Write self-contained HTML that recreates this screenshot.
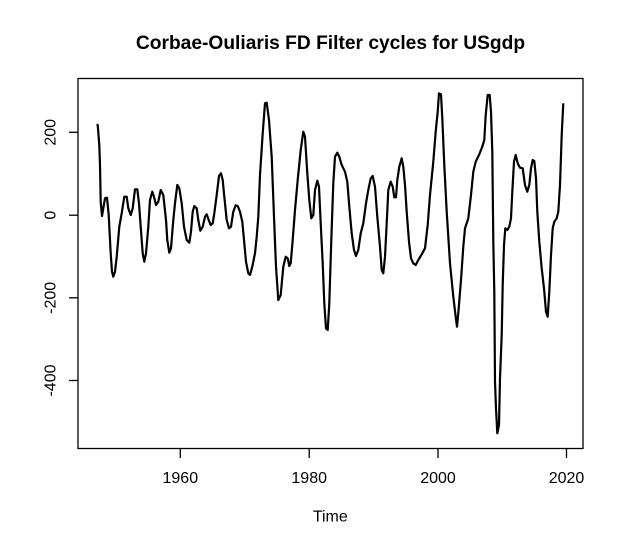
<!DOCTYPE html>
<html>
<head>
<meta charset="utf-8">
<style>
html,body{margin:0;padding:0;background:#fff;}
svg{display:block;}
text{font-family:"Liberation Sans",Arial,sans-serif;fill:#000;}
</style>
</head>
<body>
<svg width="624" height="546" viewBox="0 0 624 546" xmlns="http://www.w3.org/2000/svg">
<rect x="0" y="0" width="624" height="546" fill="#fff"/>
<text x="330.5" y="49" font-size="19.2" font-weight="bold" text-anchor="middle">Corbae-Ouliaris FD Filter cycles for USgdp</text>
<rect x="78" y="78.5" width="505" height="370" fill="none" stroke="#000" stroke-width="1.3"/>
<g stroke="#000" stroke-width="1.3">
<line x1="180.3" y1="448.5" x2="180.3" y2="458"/>
<line x1="309.2" y1="448.5" x2="309.2" y2="458"/>
<line x1="438" y1="448.5" x2="438" y2="458"/>
<line x1="566.5" y1="448.5" x2="566.5" y2="458"/>
<line x1="69" y1="132.3" x2="78" y2="132.3"/>
<line x1="69" y1="215.2" x2="78" y2="215.2"/>
<line x1="69" y1="297.8" x2="78" y2="297.8"/>
<line x1="69" y1="380.5" x2="78" y2="380.5"/>
</g>
<g font-size="16" text-anchor="middle">
<text x="180.3" y="483">1960</text>
<text x="309.2" y="483">1980</text>
<text x="438" y="483">2000</text>
<text x="566.5" y="483">2020</text>
<text x="330.3" y="521.7">Time</text>
<text transform="translate(55.7,132.3) rotate(-90)">200</text>
<text transform="translate(55.7,215.2) rotate(-90)">0</text>
<text transform="translate(55.7,297.8) rotate(-90)">-200</text>
<text transform="translate(55.7,380.5) rotate(-90)">-400</text>
</g>
<polyline fill="none" stroke="#000" stroke-width="2.2" stroke-linejoin="round" points="
96.7,124.3 97.7,125 99.3,145 100,165 100.7,201.7 102,216 103.3,208.3 105,198.3 107,197.7 108.7,215
110.7,253.3 112,271.7 113.3,276.7 115,271.7 116.7,256.7 119.3,226.7 121.7,213.3 124.3,196.7 126.7,196.7 128.3,208.3
130.7,215 132.7,208.3 135,189.3 137.3,189.3 139,203.3 140.7,226.7 142.7,253.3 144.3,261.7 146,253.3 148.3,226.7
150,200 152.3,191.7 154,196.7 156,205 158.3,201.7 160.7,190 163.3,195 166,220 167.3,240 169.3,252.7
171,248.3 173.3,220 175,203.3 177.3,185 179.3,188.3 181.7,203.3 184,226.7 186.7,240 189.3,242.7 191,231.7
192.7,211.7 194.3,206 196.7,208.3 198.3,220 200.3,230.7 202.7,226.7 205,216.7 206.7,214.3 208.7,220 210.7,225
212.7,223.3 214.3,213.3 216.7,195 219,176 221,173.3 222.7,180 224.3,196.7 226.7,220 229,228.3 231,226.7
233.3,211.7 235.7,205.3 237.7,206 240,211.7 242.3,221.7 244,240 246,261.7 248.3,273.3 250,275 252.3,266.7
255,253.3 256.7,236.7 258.3,216.7 260,175 262.7,133.3 265,103.3 266.7,102.7 269,120 271.7,156.7 274,216.7
276,266.7 278.3,300 280.7,295 283.3,266.7 285.7,256.7 287.7,258.3 289.3,266 290.7,263.3 292.7,240 295,210
297.7,180 300.7,150 303.3,131.7 305,136.7 307.3,173.3 309.3,200 311.3,218.3 313.3,215 315,190 317.3,180.7
319,186.7 320.7,223.3 322.7,263.3 324.3,303.3 326,328.3 327.7,330 329.3,303.3 331.3,240 333.3,183.3 335,156.7
337.3,152.7 339.3,156.7 341.7,165 345,171.7 347.3,181.7 349.3,206.7 351.7,233.3 354,250 356,256 358.3,250
360.7,233.3 363.3,223.3 366,203.3 368.3,190 370.7,178.3 372.7,176 375,186.7 377.3,216.7 380,246.7 381.7,270
383.3,273.3 385,256.7 386.7,223.3 388.3,190 390.7,181.7 392.7,186.7 394.3,197.3 396,197.3 397.3,180 399.3,166.7
401.7,158.3 403.3,166.7 405,185 406.7,211.7 409,241.7 411,258.3 413.3,263.3 415.7,265 418.3,260 421.7,254.3
425,248.3 427.7,225 430,195 433.3,161.7 435.7,131.7 437.7,111.7 439,93.3 441,94.3 442.3,118.3 444.3,165
446.7,211.7 450,263.3 453.3,296.7 455.7,316.7 457,326.7 458.3,313.3 461,280 463.3,246.7 465,228.3 468.3,218.3
471,195 473.3,171.7 475.7,161.7 479,155 482.3,146.7 484.3,140 485.7,115 487.7,95 489.7,95 491,111.7
492.3,151.7 493.3,241.7 494.3,291.7 495,381.7 496,408.3 497.3,433.3 499,425 500,378.3 501.7,335 502.7,285
504,245 505.3,228.3 507.3,230 509.3,226.7 511,218.3 512.3,191.7 514,161.7 515.7,155 517.7,163.3 520,167.7
522.7,168.3 525,185 527.3,191.7 529.3,185 531,168.3 532.7,160 534.3,161 536,178.3 537.3,211.7 539.3,241.7
541.7,268.3 544,288.3 546,311.7 547.7,316.7 549.3,291.7 551,255 552.7,228.3 554.3,221.7 556.7,218.3 558.3,211.7
560,185 561.7,135 563.3,103.3"/>
</svg>
</body>
</html>
